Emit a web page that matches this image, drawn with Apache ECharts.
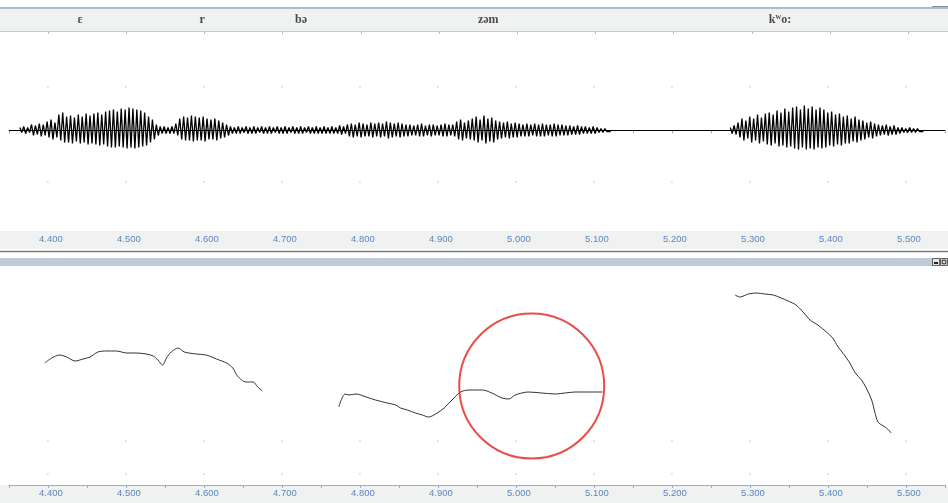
<!DOCTYPE html>
<html><head><meta charset="utf-8">
<script src="https://cdn.jsdelivr.net/npm/echarts@6/dist/echarts.min.js"></script>
<style>html,body{margin:0;padding:0;background:#fff}#c{width:948px;height:503px}</style>
</head><body><div id="c"></div>
<script>
// ---- segment labels (header tier) ----
const segLabels = ['ɛ', 'r', 'bə', 'zəm', 'kʷo:'];
const segLabelTimes = [4.441, 4.597, 4.7235, 4.963, 5.336];

// ---- time axis ----
const timeMin = 4.35, timeMax = 5.55, timeStep = 0.05;
const gridDotTimes = [4.4, 4.5, 4.6, 4.7, 4.8, 4.9, 5.0, 5.1, 5.2, 5.3, 5.4, 5.5];
const waveGridRows = [43.5, -51.5];
const pitchGridRows = [44, 11];

// ---- waveform peaks (per 5 ms bin, upper / lower peak amplitude) ----
const waveStep = 0.005;
const waveAStart = 4.364;
const waveAUpper = [3,4,3, 6,5,7,6, 9,11,8, 16,18, 14,15,13, 16,14,17,15, 17,18,16, 19,20,21,19, 22,21,23,22, 21,20,18, 14,11, 6,4, 4,3,4, 7,
  12,14,13,15,14,13,14, 12,11,12,10, 8,6,
  4,3,4,3,4,3,4,3,4,3,4,3,4,3,4,3,4,3,4,3,4,3,4,
  3,4,3,4,3,5,4, 6,7,6,8,7,6,8,7, 8,7,9,8,7,8,7,6, 6,5,6,7,5,6,6,5,6,7,6,6,
  9,11,8,10,12, 14,11,15,12,13,10, 9,8,9,7,8, 7,6,7,6,7,6,7,6,6,7,6,6,5, 5,4,5,4,4,3,4, 3,2,2,1];
const waveALower = [2,3,2, 5,4,6,5, 7,9,7, 10,12, 12,13,11, 13,12,14,13, 14,15,14, 16,17,17,16, 17,18,17,18, 17,16,15, 12,9, 5,3, 3,3,3, 5,
  9,10,10,11,10,10,11, 9,9,10,8, 7,5,
  3,3,3,2,3,3,3,2,3,3,3,2,3,3,3,2,3,3,3,2,3,3,3,
  3,3,3,3,3,4,3, 6,7,6,7,6,6,7,6, 7,6,8,7,6,7,6,6, 5,5,6,6,5,6,5,5,6,6,5,6,
  9,10,8,9,10, 12,10,13,11,12,9, 8,7,8,7,7, 6,6,6,5,6,6,6,5,6,6,5,5,5, 4,4,4,3,3,3,3, 2,2,1,1];
const waveBStart = 5.2747;
const waveBUpper = [3,5, 8,12,10, 14,12,16,13,17, 18,16,20,18,22,19,23, 24,21,25,22,24,21,23, 21,18,19,16,17,14, 15,12,14,11, 10,8,9,7, 6,5,6,4,5, 3,3,2,3,2,2,1];
const waveBLower = [3,4, 7,10,8, 12,10,13,11,14, 15,13,16,15,17,16,18, 19,17,19,18,19,17,18, 17,15,16,14,15,13, 13,11,12,10, 9,7,8,6, 5,4,5,4,4, 3,2,2,2,2,1,1];

// ---- pitch contour (relative pitch units) ----
const pitch1Times = [4.396,4.405,4.415,4.424,4.435,4.445,4.454,4.464,4.475,4.488,4.501,4.513,4.526,4.535,4.541,4.547,4.552,4.558,4.567,4.575,4.590,4.603,4.616,4.629,4.637,4.643,4.654,4.663,4.669,4.675];
const pitch1Values = [122,127,130,128,124,126,128,133,134,134,132,132,131,129,125,120,127,133,137,133,131,130,126,122,117,109,103,103,98,94];
const pitch2Times = [4.773,4.776,4.781,4.786,4.795,4.808,4.820,4.835,4.846,4.852,4.861,4.871,4.880,4.888,4.897,4.908,4.918,4.929,4.940,4.957,4.969,4.982,4.991,4.999,5.016,5.033,5.051,5.063,5.076,5.093,5.111];
const pitch2Values = [78,85,91,90,91,88,85,82,80,77,75,72,70,68,71,77,85,93,95,95,92,87,86,90,93,92,91,92,93,93,93];
const pitch3Times = [5.281,5.287,5.298,5.308,5.319,5.330,5.340,5.349,5.359,5.368,5.377,5.387,5.398,5.406,5.413,5.421,5.428,5.435,5.443,5.449,5.456,5.460,5.464,5.471,5.475,5.481];
const pitch3Values = [190,188,191,192,191,190,187,184,180,173,165,160,153,147,138,130,122,112,105,97,85,73,63,59,57,52];

// ---- highlighted region (annotation circle) ----
const highlightCenter = [5.0202, 99];

// ---------------------------------------------------------------
function wavePoints(start, up, low) {
  const pts = [];
  for (let i = 0; i < up.length; i++) {
    const t = start + i * waveStep;
    pts.push([t, up[i]]);
    pts.push([t + waveStep / 2, -low[i]]);
  }
  return pts;
}
const zip = (a, b) => a.map((v, i) => [v, b[i]]);
const dots = rows => rows.flatMap(r => gridDotTimes.map(t => [t, r]));

const BLUE = '#8fb0d8', LBL = '#5d86bd', BAND = '#f0f1f1';
const tickLabel = v => (Math.round(v * 1000) % 100 === 0) ? v.toFixed(3) : '';

function timeAxis(gridIndex, extra) {
  return Object.assign({
    type: 'value', gridIndex, min: timeMin, max: timeMax, interval: timeStep,
    axisLine: { show: true, lineStyle: { color: BLUE, width: 1 } },
    axisTick: { show: true, length: 3, lineStyle: { color: BLUE } },
    axisLabel: { show: true, formatter: tickLabel, color: LBL, fontSize: 9.5, fontFamily: 'Liberation Sans, Arial', margin: 3, padding: [0, 0, 0, 6], showMinLabel: true, showMaxLabel: true },
    splitLine: { show: false }
  }, extra || {});
}

const chart = echarts.init(document.getElementById('c'), null, { renderer: 'canvas' });
const L = 8.9, R = 0.7;
chart.setOption({
  animation: false,
  backgroundColor: '#ffffff',
  grid: [
    { left: L, right: R, top: 33, height: 198 },   // waveform
    { left: L, right: R, top: 266, height: 219 },  // pitch
    { left: L, right: R, top: 9, height: 22 },     // header tier
    { left: 48, right: 39.8, top: 9, height: 22.5 } // header tier ticks (0.1 s)
  ],
  xAxis: [
    timeAxis(0),
    timeAxis(1),
    timeAxis(2, { axisLine: { show: false }, axisTick: { show: false }, axisLabel: { show: false } }),
    { type: 'value', gridIndex: 3, min: 4.4, max: 5.5, interval: 0.1, axisLine: { show: false },
      axisTick: { show: true, length: 2.5, lineStyle: { color: '#bcbcbc' } }, axisLabel: { show: false }, splitLine: { show: false } }
  ],
  yAxis: [
    { type: 'value', gridIndex: 0, min: -100.5, max: 97.5, show: false },
    { type: 'value', gridIndex: 1, min: 0, max: 219, show: false },
    { type: 'value', gridIndex: 2, min: 0, max: 1, show: false },
    { type: 'value', gridIndex: 3, min: 0, max: 1, show: false }
  ],
  graphic: [
    { type: 'rect', shape: { x: 0, y: 9, width: 948, height: 22 }, style: { fill: BAND }, z: -10 },
    { type: 'line', shape: { x1: 0, y1: 8, x2: 948, y2: 8 }, style: { stroke: '#a9bcd6', lineWidth: 2 }, z: -5 },
    { type: 'line', shape: { x1: 932, y1: 6.5, x2: 948, y2: 6.5 }, style: { stroke: '#8a8a8a', lineWidth: 1 }, z: -5 },
    { type: 'line', shape: { x1: 0, y1: 31.5, x2: 948, y2: 31.5 }, style: { stroke: '#c9c9c9', lineWidth: 1 }, z: -5 },
    { type: 'rect', shape: { x: 0, y: 231, width: 948, height: 18 }, style: { fill: BAND }, z: -10 },
    { type: 'line', shape: { x1: 0, y1: 251.5, x2: 948, y2: 251.5 }, style: { stroke: '#7d7d7d', lineWidth: 1.5 }, z: -5 },
    { type: 'rect', shape: { x: 0, y: 258, width: 948, height: 8 }, style: { fill: '#bdcbdb' }, z: -10 },
    { type: 'rect', shape: { x: 932.5, y: 258.5, width: 7, height: 7 }, style: { fill: '#e6e6e6', stroke: '#444', lineWidth: 0.8 }, z: -4 },
    { type: 'rect', shape: { x: 934, y: 262, width: 4, height: 2 }, style: { fill: '#222' }, z: -3 },
    { type: 'rect', shape: { x: 940.5, y: 258.5, width: 7, height: 7 }, style: { fill: '#e6e6e6', stroke: '#444', lineWidth: 0.8 }, z: -4 },
    { type: 'rect', shape: { x: 942.2, y: 260.2, width: 3.6, height: 3.6 }, style: { fill: 'none', stroke: '#222', lineWidth: 1 }, z: -3 },
    { type: 'rect', shape: { x: 0, y: 485, width: 948, height: 18 }, style: { fill: BAND }, z: -10 }
  ],
  series: [
    { type: 'scatter', xAxisIndex: 0, yAxisIndex: 0, data: dots(waveGridRows), symbol: 'rect', symbolSize: 1.3, silent: true, itemStyle: { color: '#bdbdbd' }, z: 1 },
    { type: 'scatter', xAxisIndex: 1, yAxisIndex: 1, data: dots(pitchGridRows), symbol: 'rect', symbolSize: 1.3, silent: true, itemStyle: { color: '#bdbdbd' }, z: 1 },
    { type: 'line', xAxisIndex: 0, yAxisIndex: 0, data: wavePoints(waveAStart, waveAUpper, waveALower), symbol: 'none', lineStyle: { color: '#000', width: 1.3 },
      markLine: { silent: true, symbol: 'none', label: { show: false }, lineStyle: { color: '#000', width: 1.2, type: 'solid' }, data: [{ yAxis: 0 }] } },
    { type: 'line', xAxisIndex: 0, yAxisIndex: 0, data: wavePoints(waveBStart, waveBUpper, waveBLower), symbol: 'none', lineStyle: { color: '#000', width: 1.3 } },
    { type: 'line', xAxisIndex: 1, yAxisIndex: 1, data: zip(pitch1Times, pitch1Values), symbol: 'none', smooth: 0.3, lineStyle: { color: '#333', width: 1 } },
    { type: 'line', xAxisIndex: 1, yAxisIndex: 1, data: zip(pitch2Times, pitch2Values), symbol: 'none', smooth: 0.3, lineStyle: { color: '#333', width: 1 } },
    { type: 'line', xAxisIndex: 1, yAxisIndex: 1, data: zip(pitch3Times, pitch3Values), symbol: 'none', smooth: 0.3, lineStyle: { color: '#333', width: 1 } },
    { type: 'scatter', xAxisIndex: 1, yAxisIndex: 1, data: [highlightCenter], symbol: 'circle', symbolSize: 145,
      itemStyle: { color: 'rgba(0,0,0,0)', borderColor: '#e3201b', borderWidth: 2 }, silent: true, z: 5 },
    { type: 'scatter', xAxisIndex: 2, yAxisIndex: 2, data: segLabels.map((s, i) => ({ value: [segLabelTimes[i], 0.5], name: s })),
      symbolSize: 0, label: { show: true, position: 'inside',
        formatter: p => p.name.replace('ʷ', '{sup|w}'),
        color: '#222', fontSize: 12, fontWeight: 'bold', fontFamily: 'Liberation Serif, DejaVu Serif, serif',
        rich: { sup: { fontSize: 8, fontWeight: 'bold', color: '#222', fontFamily: 'Liberation Serif, DejaVu Serif, serif', verticalAlign: 'top', padding: [0, 0, 6, 0] } } } }
  ]
});
</script></body></html>
